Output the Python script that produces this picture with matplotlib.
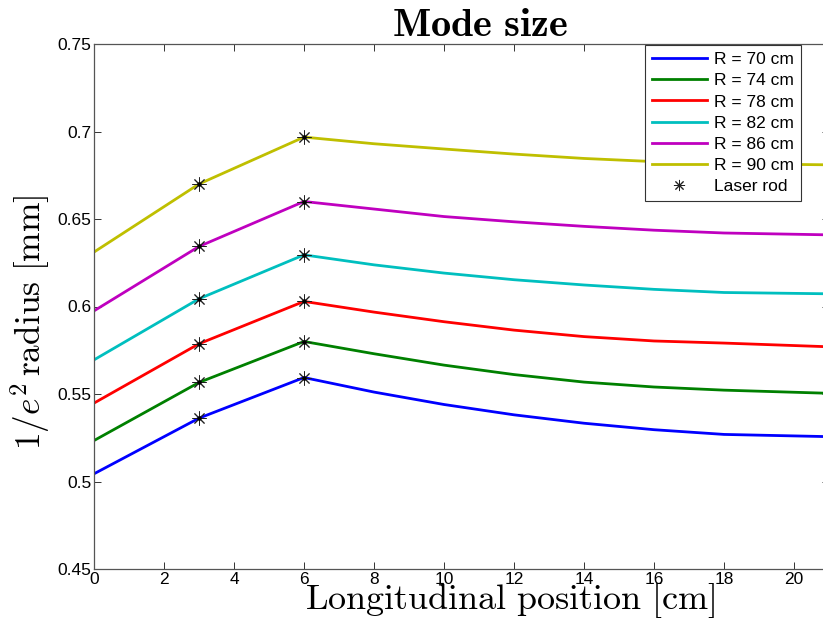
import matplotlib
matplotlib.use('Agg')
from matplotlib import pyplot as plt

plt.rcParams['font.family'] = 'Liberation Sans'
plt.rcParams['mathtext.fontset'] = 'cm'

# longitudinal position [cm]
z = [0, 3, 6, 8, 10, 12, 14, 16, 18, 20.83]
labels = ['R = 70 cm', 'R = 74 cm', 'R = 78 cm', 'R = 82 cm', 'R = 86 cm', 'R = 90 cm']
colors = [(0, 0, 1), (0, 0.5, 0), (1, 0, 0), (0, 0.75, 0.75), (0.75, 0, 0.75), (0.75, 0.75, 0)]

# 1/e^2 radius [mm]
w70 = [0.5044, 0.5362, 0.5594, 0.5511, 0.5440, 0.5381, 0.5333, 0.5296, 0.5269, 0.5257]
w74 = [0.5234, 0.5566, 0.5800, 0.5730, 0.5665, 0.5611, 0.5568, 0.5540, 0.5522, 0.5505]
w78 = [0.5448, 0.5787, 0.6029, 0.5968, 0.5913, 0.5865, 0.5828, 0.5803, 0.5791, 0.5771]
w82 = [0.5695, 0.6044, 0.6295, 0.6238, 0.6191, 0.6153, 0.6123, 0.6098, 0.6080, 0.6073]
w86 = [0.5975, 0.6343, 0.6600, 0.6557, 0.6514, 0.6484, 0.6458, 0.6436, 0.6420, 0.6410]
w90 = [0.6311, 0.6700, 0.6968, 0.6930, 0.6900, 0.6871, 0.6846, 0.6828, 0.6816, 0.6810]
series = [w70, w74, w78, w82, w86, w90]

# laser rod end faces
rod_idx = [1, 2]

fig = plt.figure(figsize=(8.23, 6.19), dpi=100)
ax = fig.add_axes([94/823, 50/619, 735/823, 525/619])

for w, lab, c in zip(series, labels, colors):
    ax.plot(z, w, color=c, lw=2.0, label=lab)

rx = [z[i] for w in series for i in rod_idx]
ry = [w[i] for w in series for i in rod_idx]
ax.plot(rx, ry, ls='none', marker=(8, 2, 0), ms=10, mew=0.7, mec='#222222', color='k',
        label='Laser rod')
ax.plot(rx, ry, ls='none', marker='o', ms=2.2, color='k')

ax.set_xlim(0, 21)
ax.set_ylim(0.45, 0.75)
ax.set_xticks(range(0, 21, 2))
ax.set_yticks([0.45, 0.5, 0.55, 0.6, 0.65, 0.7, 0.75])
ax.set_yticklabels(['0.45', '0.5', '0.55', '0.6', '0.65', '0.7', '0.75'])
ax.tick_params(direction='in', length=5, width=0.7, colors='#333333',
               top=True, right=True, labelsize=12.5, pad=2)
ax.tick_params(labelcolor='k')
for s in ax.spines.values():
    s.set_color('#555555')
    s.set_linewidth(0.9)

leg = ax.legend(loc='upper right', bbox_to_anchor=(801/823, 1 - 45/619),
                bbox_transform=fig.transFigure, fontsize=12.5, fancybox=False,
                framealpha=1, edgecolor='#333333', handlelength=3.2,
                labelspacing=0.35, borderpad=0.4, handletextpad=0.4,
                borderaxespad=0)
leg.get_frame().set_linewidth(0.8)
leg.legend_handles[-1].set_markersize(8)

fig.text(480/823, 1 - 25/619, r'$\mathbf{Mode\ size}$', ha='center', va='center',
         fontsize=29)
fig.text(510/823, 1 - 601/619, r'$\mathrm{Longitudinal\ position\ [cm]}$',
         ha='center', va='center', fontsize=26)
fig.text(30/823, 1 - 322/619, r'$1/e^2\,\mathrm{radius\ [mm]}$', ha='center',
         va='center', rotation=90, fontsize=25.5)

fig.savefig('out.png', dpi=100)
